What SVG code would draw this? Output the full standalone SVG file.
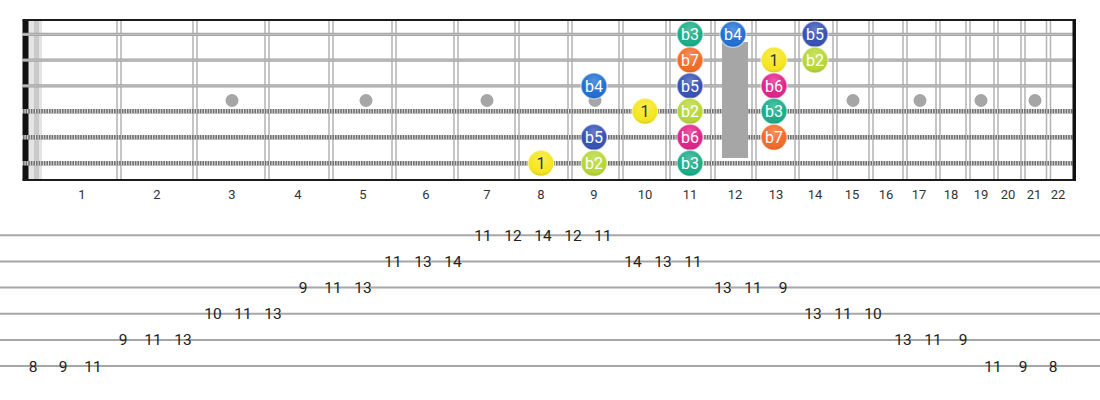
<svg xmlns="http://www.w3.org/2000/svg" width="1100" height="400" viewBox="0 0 1100 400">
<defs>
<style>
.fret{stroke:#b4b4b4;stroke-width:1.5;fill:none}
.plain{stroke:#a3a3a3;stroke-width:3.2}
.plainc{stroke:#c8c8c8;stroke-width:1}
.wound{stroke:#707070;stroke-width:4.5}
.windings{stroke:#e2e2e2;stroke-width:4.5;stroke-dasharray:1 1.6}
.border{stroke:#1a1a1a;stroke-width:2;fill:none}
.dot{fill:#a6a6a6}
.fn{font-family:Roboto,"Liberation Sans",sans-serif;font-size:13px;fill:#333;text-anchor:middle}
.tabl{stroke:#a6a6a6;stroke-width:2}
.tn{font-family:Roboto,"Liberation Sans",sans-serif;font-size:15.5px;fill:#222;text-anchor:middle}
.nt{font-family:Roboto,"Liberation Sans",sans-serif;font-size:16px;fill:#fff;text-anchor:middle}
.nt.dark{fill:#333}
.ring{stroke:#fff;stroke-opacity:0.5;stroke-width:1.5}
.n1{fill:#f6e620}.b2{fill:#b7d737}.b3{fill:#18ad88}.b4{fill:#1f6fd3}.b5{fill:#3650b4}.b6{fill:#e0228a}.b7{fill:#f36a27}
</style>
<radialGradient id="shine" cx="50%" cy="30%" r="70%">
<stop offset="0" stop-color="#fff" stop-opacity="0.25"/>
<stop offset="0.7" stop-color="#fff" stop-opacity="0"/>
<stop offset="1" stop-color="#000" stop-opacity="0.12"/>
</radialGradient>
</defs>
<rect width="1100" height="400" fill="#fff"/>

<g id="fretboard">
<rect x="28" y="20" width="14" height="160" fill="#e4e4e4"/>
<rect x="34" y="20" width="5" height="160" fill="#cacaca"/>
<rect x="22.5" y="20" width="6" height="160" fill="#111"/>
<g id="frets">
<path class="fret" d="M117 20V180M121 20V180M193 20V180M197 20V180M265 20V180M269 20V180M329 20V180M333 20V180M392 20V180M396 20V180M454 20V180M458 20V180M515 20V180M519 20V180M568 20V180M572 20V180M619 20V180M623 20V180M666 20V180M670 20V180M711 20V180M715 20V180M752 20V180M756 20V180M795 20V180M799 20V180M833 20V180M837 20V180M869 20V180M873 20V180M903 20V180M907 20V180M936 20V180M940 20V180M966 20V180M970 20V180M994 20V180M998 20V180M1021 20V180M1025 20V180M1046.5 20V180M1050.5 20V180"/>
</g>
<g id="inlays">
<circle class="dot" cx="232" cy="100.5" r="6.5"/>
<circle class="dot" cx="366" cy="100.5" r="6.5"/>
<circle class="dot" cx="487" cy="100.5" r="6.5"/>
<circle class="dot" cx="595" cy="100.5" r="6.5"/>
<circle class="dot" cx="853" cy="100.5" r="6.5"/>
<circle class="dot" cx="920" cy="100.5" r="6.5"/>
<circle class="dot" cx="981" cy="100.5" r="6.5"/>
<circle class="dot" cx="1035" cy="100.5" r="6.5"/>
</g>
<g id="strings">
<line class="plain" x1="22" y1="34.3" x2="1075" y2="34.3"/>
<line class="plainc" x1="22" y1="34.3" x2="1075" y2="34.3"/>
<line class="plain" x1="22" y1="60.1" x2="1075" y2="60.1"/>
<line class="plainc" x1="22" y1="60.1" x2="1075" y2="60.1"/>
<line class="plain" x1="22" y1="85.9" x2="1075" y2="85.9"/>
<line class="plainc" x1="22" y1="85.9" x2="1075" y2="85.9"/>
<line class="wound" x1="22" y1="111.3" x2="1075" y2="111.3"/>
<line class="windings" x1="22" y1="111.3" x2="1075" y2="111.3"/>
<line class="wound" x1="22" y1="137.3" x2="1075" y2="137.3"/>
<line class="windings" x1="22" y1="137.3" x2="1075" y2="137.3"/>
<line class="wound" x1="22" y1="163.3" x2="1075" y2="163.3"/>
<line class="windings" x1="22" y1="163.3" x2="1075" y2="163.3"/>
</g>
<rect id="octave-marker" x="722" y="42" width="26" height="116" fill="#a6a6a6"/>
<path class="border" d="M22.5 20H1075V180H22.5"/>
<line x1="1074" y1="20" x2="1074" y2="180" stroke="#111" stroke-width="3"/>
<g id="fret-numbers">
<text class="fn" x="82" y="199">1</text>
<text class="fn" x="157" y="199">2</text>
<text class="fn" x="232" y="199">3</text>
<text class="fn" x="298" y="199">4</text>
<text class="fn" x="363" y="199">5</text>
<text class="fn" x="426" y="199">6</text>
<text class="fn" x="487" y="199">7</text>
<text class="fn" x="541" y="199">8</text>
<text class="fn" x="594" y="199">9</text>
<text class="fn" x="645" y="199">10</text>
<text class="fn" x="690" y="199">11</text>
<text class="fn" x="735" y="199">12</text>
<text class="fn" x="776" y="199">13</text>
<text class="fn" x="815" y="199">14</text>
<text class="fn" x="852" y="199">15</text>
<text class="fn" x="886" y="199">16</text>
<text class="fn" x="919" y="199">17</text>
<text class="fn" x="951" y="199">18</text>
<text class="fn" x="981" y="199">19</text>
<text class="fn" x="1008" y="199">20</text>
<text class="fn" x="1034" y="199">21</text>
<text class="fn" x="1058" y="199">22</text>
</g>
</g>

<g id="notes">
<g id="n-s1-f11"><circle class="b3 ring" cx="690" cy="34.3" r="13"/><circle cx="690" cy="34.3" r="12.3" fill="url(#shine)"/><text class="nt" x="690" y="40">b3</text></g>
<g id="n-s1-f12"><circle class="b4 ring" cx="733" cy="34.3" r="13"/><circle cx="733" cy="34.3" r="12.3" fill="url(#shine)"/><text class="nt" x="733" y="40">b4</text></g>
<g id="n-s1-f14"><circle class="b5 ring" cx="815" cy="34.3" r="13"/><circle cx="815" cy="34.3" r="12.3" fill="url(#shine)"/><text class="nt" x="815" y="40">b5</text></g>

<g id="n-s2-f11"><circle class="b7 ring" cx="690" cy="60.1" r="13"/><circle cx="690" cy="60.1" r="12.3" fill="url(#shine)"/><text class="nt" x="690" y="65.8">b7</text></g>
<g id="n-s2-f13"><circle class="n1 ring" cx="774" cy="60.1" r="13"/><circle cx="774" cy="60.1" r="12.3" fill="url(#shine)"/><text class="nt dark" x="774" y="65.8">1</text></g>
<g id="n-s2-f14"><circle class="b2 ring" cx="815" cy="60.1" r="13"/><circle cx="815" cy="60.1" r="12.3" fill="url(#shine)"/><text class="nt" x="815" y="65.8">b2</text></g>

<g id="n-s3-f9"><circle class="b4 ring" cx="594" cy="85.9" r="13"/><circle cx="594" cy="85.9" r="12.3" fill="url(#shine)"/><text class="nt" x="594" y="91.6">b4</text></g>
<g id="n-s3-f11"><circle class="b5 ring" cx="690" cy="85.9" r="13"/><circle cx="690" cy="85.9" r="12.3" fill="url(#shine)"/><text class="nt" x="690" y="91.6">b5</text></g>
<g id="n-s3-f13"><circle class="b6 ring" cx="774" cy="85.9" r="13"/><circle cx="774" cy="85.9" r="12.3" fill="url(#shine)"/><text class="nt" x="774" y="91.6">b6</text></g>

<g id="n-s4-f10"><circle class="n1 ring" cx="645" cy="111.3" r="13"/><circle cx="645" cy="111.3" r="12.3" fill="url(#shine)"/><text class="nt dark" x="645" y="117">1</text></g>
<g id="n-s4-f11"><circle class="b2 ring" cx="690" cy="111.3" r="13"/><circle cx="690" cy="111.3" r="12.3" fill="url(#shine)"/><text class="nt" x="690" y="117">b2</text></g>
<g id="n-s4-f13"><circle class="b3 ring" cx="774" cy="111.3" r="13"/><circle cx="774" cy="111.3" r="12.3" fill="url(#shine)"/><text class="nt" x="774" y="117">b3</text></g>

<g id="n-s5-f9"><circle class="b5 ring" cx="594" cy="137.3" r="13"/><circle cx="594" cy="137.3" r="12.3" fill="url(#shine)"/><text class="nt" x="594" y="143">b5</text></g>
<g id="n-s5-f11"><circle class="b6 ring" cx="690" cy="137.3" r="13"/><circle cx="690" cy="137.3" r="12.3" fill="url(#shine)"/><text class="nt" x="690" y="143">b6</text></g>
<g id="n-s5-f13"><circle class="b7 ring" cx="774" cy="137.3" r="13"/><circle cx="774" cy="137.3" r="12.3" fill="url(#shine)"/><text class="nt" x="774" y="143">b7</text></g>

<g id="n-s6-f8"><circle class="n1 ring" cx="541" cy="163.3" r="13"/><circle cx="541" cy="163.3" r="12.3" fill="url(#shine)"/><text class="nt dark" x="541" y="169">1</text></g>
<g id="n-s6-f9"><circle class="b2 ring" cx="594" cy="163.3" r="13"/><circle cx="594" cy="163.3" r="12.3" fill="url(#shine)"/><text class="nt" x="594" y="169">b2</text></g>
<g id="n-s6-f11"><circle class="b3 ring" cx="690" cy="163.3" r="13"/><circle cx="690" cy="163.3" r="12.3" fill="url(#shine)"/><text class="nt" x="690" y="169">b3</text></g>
</g>

<g id="tab">
<g id="tab-lines">
<line class="tabl" x1="0" y1="235.3" x2="1100" y2="235.3"/>
<line class="tabl" x1="0" y1="261.4" x2="1100" y2="261.4"/>
<line class="tabl" x1="0" y1="287.6" x2="1100" y2="287.6"/>
<line class="tabl" x1="0" y1="313.7" x2="1100" y2="313.7"/>
<line class="tabl" x1="0" y1="339.9" x2="1100" y2="339.9"/>
<line class="tabl" x1="0" y1="366" x2="1100" y2="366"/>
</g>
<g id="tab-numbers">
<text class="tn" x="33" y="371.5">8</text>
<text class="tn" x="63" y="371.5">9</text>
<text class="tn" x="93" y="371.5">11</text>
<text class="tn" x="123" y="345.4">9</text>
<text class="tn" x="153" y="345.4">11</text>
<text class="tn" x="183" y="345.4">13</text>
<text class="tn" x="213" y="319.2">10</text>
<text class="tn" x="243" y="319.2">11</text>
<text class="tn" x="273" y="319.2">13</text>
<text class="tn" x="303" y="293.1">9</text>
<text class="tn" x="333" y="293.1">11</text>
<text class="tn" x="363" y="293.1">13</text>
<text class="tn" x="393" y="266.9">11</text>
<text class="tn" x="423" y="266.9">13</text>
<text class="tn" x="453" y="266.9">14</text>
<text class="tn" x="483" y="240.8">11</text>
<text class="tn" x="513" y="240.8">12</text>
<text class="tn" x="543" y="240.8">14</text>
<text class="tn" x="573" y="240.8">12</text>
<text class="tn" x="603" y="240.8">11</text>
<text class="tn" x="633" y="266.9">14</text>
<text class="tn" x="663" y="266.9">13</text>
<text class="tn" x="693" y="266.9">11</text>
<text class="tn" x="723" y="293.1">13</text>
<text class="tn" x="753" y="293.1">11</text>
<text class="tn" x="783" y="293.1">9</text>
<text class="tn" x="813" y="319.2">13</text>
<text class="tn" x="843" y="319.2">11</text>
<text class="tn" x="873" y="319.2">10</text>
<text class="tn" x="903" y="345.4">13</text>
<text class="tn" x="933" y="345.4">11</text>
<text class="tn" x="963" y="345.4">9</text>
<text class="tn" x="993" y="371.5">11</text>
<text class="tn" x="1023" y="371.5">9</text>
<text class="tn" x="1053" y="371.5">8</text>
</g>
</g>
</svg>
